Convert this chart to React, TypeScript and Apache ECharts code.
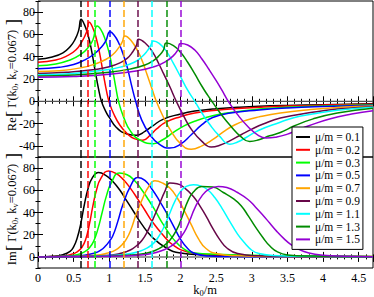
import React, { useEffect, useRef } from "react";
import * as echarts from "echarts";

// ---------- data ----------
const MU_LABELS = ["μ/m = 0.1", "μ/m = 0.2", "μ/m = 0.3", "μ/m = 0.5", "μ/m = 0.7", "μ/m = 0.9", "μ/m = 1.1", "μ/m = 1.3", "μ/m = 1.5"];
const COLORS = ["#000000", "#ff0000", "#00ff00", "#0000ff", "#ffa500", "#670748", "#00ffff", "#008b00", "#9400d3"];
const THRESHOLDS = [0.6, 0.7, 0.8, 1.0, 1.2, 1.4, 1.6, 1.8, 2.0];

const X_MIN = 0;
const X_MAX = 4.7;
const RE_MIN = -50;
const RE_MAX = 90;
const IM_MIN = -10;
const IM_MAX = 90;
const RE_TICKS = [-40, -20, 0, 20, 40, 60, 80];
const IM_TICKS = [0, 20, 40, 60, 80];
const ZERO_LINE: [number, number][] = [[0, 0], [4.7, 0]];

const reMu01: [number, number][] = [[0,37.8],[0.2,39.8],[0.35,43.5],[0.45,49],[0.52,55.5],[0.57,63.5],[0.605,73.7],[0.65,69],[0.7,60],[0.75,46],[0.8,28],[0.85,11],[0.89,0],[0.95,-9],[1.0,-14.5],[1.1,-23.5],[1.25,-29.4],[1.38,-30.5],[1.5,-27],[1.6,-22.5],[1.76,-16],[2.0,-11.4],[2.2,-8.8],[2.5,-6.6],[2.8,-5.4],[3.1,-4.5],[3.5,-3.7],[4.0,-3],[4.7,-2.3]];
const reMu02: [number, number][] = [[0,35],[0.25,37],[0.4,40.5],[0.53,46],[0.62,54],[0.68,62],[0.72,71],[0.765,66.5],[0.815,57],[0.865,43],[0.915,25],[0.965,8],[1.0,-1],[1.06,-11],[1.15,-21.5],[1.25,-29],[1.35,-33.5],[1.47,-35],[1.58,-30],[1.66,-25],[1.8,-18.5],[2.0,-13.8],[2.2,-10.5],[2.5,-8],[2.8,-6.5],[3.1,-5.4],[3.5,-4.3],[4.0,-3.4],[4.7,-2.6]];
const reMu03: [number, number][] = [[0,32],[0.25,33.5],[0.45,37],[0.6,42],[0.7,48],[0.77,55],[0.83,67.5],[0.88,64.5],[0.94,56],[1.0,43],[1.05,27],[1.09,13],[1.13,0],[1.2,-14],[1.3,-27],[1.45,-35.5],[1.62,-38],[1.75,-34.5],[1.9,-28],[2.05,-22],[2.22,-17.4],[2.45,-13],[2.7,-10],[3.1,-7],[3.5,-5.3],[4.0,-4.2],[4.7,-3.1]];
const reMu05: [number, number][] = [[0,29.2],[0.3,30.5],[0.5,33],[0.65,37],[0.78,42],[0.88,48],[0.95,54],[1.01,62.3],[1.066,59.5],[1.128,53],[1.19,43],[1.25,31],[1.31,15],[1.37,0],[1.45,-16],[1.57,-30],[1.7,-38.5],[1.85,-42],[2.0,-38.5],[2.15,-30],[2.3,-21],[2.45,-14.5],[2.7,-10.5],[3.1,-7.8],[3.5,-6],[4.0,-4.7],[4.7,-3.5]];
const reMu07: [number, number][] = [[0,26.8],[0.3,27.5],[0.6,30],[0.8,33.5],[0.95,37.5],[1.05,42],[1.12,47],[1.18,53],[1.22,58.7],[1.3,55],[1.4,45],[1.47,35],[1.53,24],[1.6,11],[1.66,0],[1.75,-13],[1.85,-25],[2.0,-38],[2.15,-43],[2.3,-40],[2.46,-34],[2.6,-27.5],[2.75,-21.5],[2.92,-17],[3.1,-14],[3.4,-10.5],[3.8,-7.5],[4.2,-5.5],[4.7,-4.2]];
const reMu09: [number, number][] = [[0,25],[0.4,26],[0.8,28.5],[1.0,31],[1.15,34.5],[1.25,38.5],[1.33,44.5],[1.38,50],[1.41,55.7],[1.5,52.5],[1.6,45],[1.7,33],[1.76,25],[1.85,13],[1.94,0],[2.05,-14],[2.15,-25],[2.3,-36],[2.43,-41],[2.55,-39.5],[2.69,-35.5],[2.85,-30],[3.0,-25],[3.16,-20.4],[3.4,-15],[3.85,-9.9],[4.2,-7],[4.7,-4.8]];
const reMu11: [number, number][] = [[0,23.8],[0.5,25],[1.0,28.5],[1.2,31.5],[1.35,35],[1.45,39.5],[1.53,45],[1.58,50],[1.62,54.2],[1.7,52],[1.8,45],[1.9,34],[2.0,22],[2.1,10],[2.2,0],[2.3,-10.5],[2.4,-20],[2.55,-31.5],[2.69,-38.5],[2.8,-36.5],[2.92,-32.5],[3.1,-26],[3.39,-19],[3.6,-14.5],[3.85,-11.4],[4.2,-8],[4.7,-5.3]];
const reMu13: [number, number][] = [[0,22.7],[0.5,23.5],[1.0,26],[1.3,29],[1.5,32.5],[1.62,36.5],[1.7,41],[1.76,46],[1.8,52.3],[1.9,50],[2.0,44],[2.1,35],[2.2,24.5],[2.3,13.5],[2.38,5.5],[2.45,-1],[2.55,-10],[2.7,-22],[2.85,-32],[2.97,-36],[3.1,-34.5],[3.25,-31],[3.4,-28],[3.6,-22],[3.85,-16],[4.2,-10.5],[4.7,-6.3]];
const reMu15: [number, number][] = [[0,21.6],[0.5,22.3],[1.0,24.3],[1.4,27.5],[1.65,31.5],[1.8,36],[1.9,41],[1.96,46],[2.0,51.8],[2.1,50.5],[2.2,46],[2.3,38],[2.4,28.5],[2.5,18.5],[2.58,10],[2.67,0],[2.8,-12],[2.95,-23],[3.1,-31],[3.2,-33],[3.35,-32],[3.5,-29.5],[3.62,-26.4],[3.8,-22],[4.09,-15.9],[4.4,-11.5],[4.7,-8.5]];

const imMu01: [number, number][] = [[0,0],[0.2,0.5],[0.35,2],[0.45,5],[0.5,9],[0.55,17],[0.6,30],[0.65,47],[0.7,61],[0.76,71],[0.85,76],[0.95,73.5],[1.05,68],[1.15,60],[1.25,50],[1.35,40],[1.45,30],[1.6,18],[1.8,8],[2.0,3.5],[2.3,2],[2.8,1.2],[3.5,0.6],[4.7,0.2]];
const imMu02: [number, number][] = [[0,0],[0.3,0.5],[0.45,2],[0.55,4.5],[0.62,9],[0.67,16],[0.72,29],[0.77,46],[0.82,60],[0.88,70.5],[0.99,77.5],[1.1,75],[1.2,69.5],[1.3,61.5],[1.4,52],[1.5,42],[1.6,32],[1.75,20],[1.9,10.5],[2.1,4.5],[2.4,2.2],[2.8,1.4],[3.5,0.7],[4.7,0.3]];
const imMu03: [number, number][] = [[0,0],[0.35,0.5],[0.55,2],[0.65,4.5],[0.72,8],[0.78,14],[0.84,25],[0.9,40],[0.96,55],[1.03,67],[1.14,75.5],[1.25,74],[1.35,69],[1.45,61],[1.55,51.5],[1.65,41],[1.75,30],[1.9,16],[2.05,7],[2.2,3.5],[2.5,2.3],[3.0,1.4],[3.6,0.8],[4.7,0.3]];
const imMu05: [number, number][] = [[0,0],[0.4,0.5],[0.65,1.5],[0.8,3.5],[0.88,6],[0.95,10],[1.0,14],[1.05,19],[1.12,32],[1.19,47],[1.3,64],[1.4,71.5],[1.5,69],[1.6,61],[1.7,51],[1.8,40],[1.9,28],[2.0,16],[2.1,7.5],[2.2,3],[2.4,0.8],[2.7,0.3],[3.2,0.2],[4.7,0.1]];
const imMu07: [number, number][] = [[0,0],[0.5,0.4],[0.8,1.5],[0.95,3],[1.05,5],[1.12,7.5],[1.18,11],[1.24,16],[1.3,24],[1.38,39],[1.47,53],[1.55,63],[1.64,68.5],[1.75,66.5],[1.85,62],[1.95,53.5],[2.05,42],[2.15,29],[2.25,16.5],[2.35,8],[2.5,3],[2.8,1],[3.3,0.4],[4.7,0.2]];
const imMu09: [number, number][] = [[0,0],[0.6,0.4],[1.0,1.5],[1.15,3],[1.25,5],[1.33,7.5],[1.4,11],[1.46,15],[1.52,21],[1.6,32],[1.7,47],[1.78,59],[1.85,66.5],[1.95,66],[2.05,62.5],[2.18,54.5],[2.28,45],[2.36,36.5],[2.45,26],[2.55,15.6],[2.65,8],[2.8,3],[3.1,1],[3.6,0.4],[4.7,0.2]];
const imMu11: [number, number][] = [[0,0],[0.7,0.4],[1.1,1.5],[1.3,3],[1.42,5],[1.5,7],[1.6,11],[1.68,17],[1.76,26],[1.84,38],[1.92,50],[2.0,59],[2.08,63.5],[2.18,65],[2.28,64],[2.38,60.5],[2.48,53.5],[2.58,44],[2.69,32],[2.8,20.5],[2.9,12.5],[3.0,6],[3.1,3],[3.3,1.3],[3.7,0.5],[4.7,0.2]];
const imMu13: [number, number][] = [[0,0],[0.8,0.4],[1.2,1.5],[1.5,3],[1.65,6],[1.75,9.5],[1.85,15],[1.95,25],[2.02,36],[2.1,50],[2.18,58.5],[2.3,63.5],[2.45,63],[2.6,58],[2.75,52],[2.85,46],[2.95,37],[3.05,27],[3.16,17],[3.25,10],[3.36,4.5],[3.5,1.8],[3.8,0.7],[4.7,0.2]];
const imMu15: [number, number][] = [[0,0],[1.0,0.5],[1.4,1.5],[1.6,3],[1.75,6],[1.85,9],[1.95,14],[2.05,22],[2.13,33],[2.2,44],[2.3,55],[2.4,61],[2.53,63.5],[2.65,62.5],[2.8,58],[2.95,51.5],[3.05,45],[3.15,38],[3.25,30.5],[3.35,23],[3.45,16.5],[3.55,11],[3.65,7],[3.8,3.5],[4.0,1.5],[4.3,0.6],[4.7,0.2]];

const RE_CURVES = [reMu01, reMu02, reMu03, reMu05, reMu07, reMu09, reMu11, reMu13, reMu15];
const IM_CURVES = [imMu01, imMu02, imMu03, imMu05, imMu07, imMu09, imMu11, imMu13, imMu15];

// ---------- styling ----------
const FONT = "'Liberation Serif','Times New Roman',serif";

function xAx(grid: number, pos: string, step: number, len: number, labels: boolean) {
  return {
    type: "value",
    gridIndex: grid,
    position: pos,
    min: X_MIN,
    max: X_MAX,
    interval: step,
    axisLine: { show: false },
    axisTick: { show: true, inside: true, length: len, lineStyle: { color: "#000", width: 1 } },
    axisLabel: { show: labels, showMaxLabel: false, margin: 4, color: "#000", fontFamily: FONT, fontSize: 12 },
    splitLine: { show: false },
    minorTick: { show: false },
    minorSplitLine: { show: false },
  };
}

function yAx(grid: number, pos: string, min: number, max: number, major: number[] | null, len: number, labels: boolean) {
  const tick: any = { show: true, inside: true, length: len, lineStyle: { color: "#000", width: 1 } };
  const label: any = {
    show: labels,
    margin: 3,
    color: "#000",
    fontFamily: FONT,
    fontSize: 12,
    formatter: (v: number) => (major && major.indexOf(v) >= 0 ? String(v) : ""),
  };
  if (major) {
    tick.customValues = major;
    label.customValues = major;
  }
  return {
    type: "value",
    gridIndex: grid,
    position: pos,
    min,
    max,
    interval: 10,
    axisLine: { show: false },
    axisTick: tick,
    axisLabel: label,
    splitLine: { show: false },
    minorTick: { show: false },
  };
}

function buildOption() {
  const xAxis = [
    xAx(0, "bottom", 0.5, 5, false),
    xAx(0, "bottom", 0.1, 2.5, false),
    xAx(0, "top", 0.5, 5, false),
    xAx(0, "top", 0.1, 2.5, false),
    xAx(1, "bottom", 0.5, 5, true),
    xAx(1, "bottom", 0.1, 2.5, false),
    xAx(1, "top", 0.5, 5, false),
    xAx(1, "top", 0.1, 2.5, false),
  ];
  const yAxis = [
    yAx(0, "left", RE_MIN, RE_MAX, RE_TICKS, 5, true),
    yAx(0, "left", RE_MIN, RE_MAX, null, 2.5, false),
    yAx(0, "right", RE_MIN, RE_MAX, RE_TICKS, 5, false),
    yAx(0, "right", RE_MIN, RE_MAX, null, 2.5, false),
    yAx(1, "left", IM_MIN, IM_MAX, IM_TICKS, 5, true),
    yAx(1, "left", IM_MIN, IM_MAX, null, 2.5, false),
    yAx(1, "right", IM_MIN, IM_MAX, IM_TICKS, 5, false),
    yAx(1, "right", IM_MIN, IM_MAX, null, 2.5, false),
  ];

  const series: any[] = [];
  series.push({
    type: "line", name: "zeroRe", xAxisIndex: 0, yAxisIndex: 0, data: ZERO_LINE,
    symbol: "none", silent: true, z: 1, lineStyle: { color: "#555", width: 1.3 },
  });
  series.push({
    type: "line", name: "zeroIm", xAxisIndex: 4, yAxisIndex: 4, data: ZERO_LINE,
    symbol: "none", silent: true, z: 1, lineStyle: { color: "#9a9a9a", width: 2 },
  });
  const dashed = (i: number) => ({
    silent: true,
    symbol: ["none", "none"],
    label: { show: false },
    emphasis: { disabled: true },
    lineStyle: { type: [7, 3], width: 1.7, color: COLORS[i], opacity: 0.85 },
    data: [{ xAxis: THRESHOLDS[i] }],
  });
  RE_CURVES.forEach((d, i) => {
    series.push({
      type: "line", name: MU_LABELS[i], xAxisIndex: 0, yAxisIndex: 0, data: d,
      symbol: "none", showSymbol: false, smooth: 0.5,
      color: COLORS[i], lineStyle: { color: COLORS[i], width: 1.5 }, z: 3,
      markLine: dashed(i),
    });
  });
  IM_CURVES.forEach((d, i) => {
    series.push({
      type: "line", name: MU_LABELS[i], xAxisIndex: 4, yAxisIndex: 4, data: d,
      symbol: "none", showSymbol: false, smooth: 0.5,
      color: COLORS[i], lineStyle: { color: COLORS[i], width: 1.5 }, z: 3,
      markLine: dashed(i),
    });
  });

  const richName = {
    t: { fontSize: 12.5, fontFamily: FONT, color: "#000", lineHeight: 14 },
    b: { fontSize: 19, fontFamily: FONT, color: "#000", lineHeight: 14 },
    s: { fontSize: 8.5, fontFamily: FONT, color: "#000", lineHeight: 8, verticalAlign: "bottom" },
  };

  return {
    animation: false,
    backgroundColor: "#ffffff",
    grid: [
      { left: 38, top: 1, width: 335, height: 156, show: true, borderColor: "#000", borderWidth: 1, backgroundColor: "transparent", containLabel: false, outerBoundsMode: "none" },
      { left: 38, top: 157, width: 335, height: 111, show: true, borderColor: "#000", borderWidth: 1, backgroundColor: "transparent", containLabel: false, outerBoundsMode: "none" },
    ],
    xAxis,
    yAxis,
    legend: {
      data: MU_LABELS,
      orient: "vertical",
      left: 292,
      top: 127,
      padding: [4, 3, 4, 4],
      itemWidth: 14,
      itemHeight: 2,
      itemGap: 0.8,
      icon: "rect",
      selectedMode: false,
      backgroundColor: "#ffffff",
      borderColor: "#000",
      borderWidth: 1,
      borderRadius: 0,
      z: 20,
      textStyle: { fontFamily: FONT, fontSize: 11.5, color: "#000", lineHeight: 12 },
    },
    graphic: [
      {
        type: "text", x: 12, y: 75, rotation: Math.PI / 2, z: 10,
        style: {
          text: "{t|Re}{b|[}{t| Γ(k}{s|0}{t|, k}{s|v}{t|=0.067)}{b| ]}",
          rich: richName, align: "center", verticalAlign: "middle",
        },
      },
      {
        type: "text", x: 12, y: 209, rotation: Math.PI / 2, z: 10,
        style: {
          text: "{t|Im}{b|[}{t| Γ(k}{s|0}{t|, k}{s|v}{t|=0.067)}{b| ]}",
          rich: richName, align: "center", verticalAlign: "middle",
        },
      },
      {
        type: "text", x: 205, y: 290, z: 10,
        style: {
          text: "{t|k}{s|0}{t|/m}",
          rich: richName, align: "center", verticalAlign: "middle",
        },
      },
    ],
    series,
  };
}

export default function App() {
  const ref = useRef<HTMLDivElement>(null);
  useEffect(() => {
    if (!ref.current) return;
    const chart = echarts.init(ref.current, null, { renderer: "svg" });
    chart.setOption(buildOption() as any);
    return () => chart.dispose();
  }, []);
  return (
    <div
      ref={ref}
      style={{ position: "fixed", left: 0, top: 0, width: 374, height: 297, background: "#fff" }}
    />
  );
}
